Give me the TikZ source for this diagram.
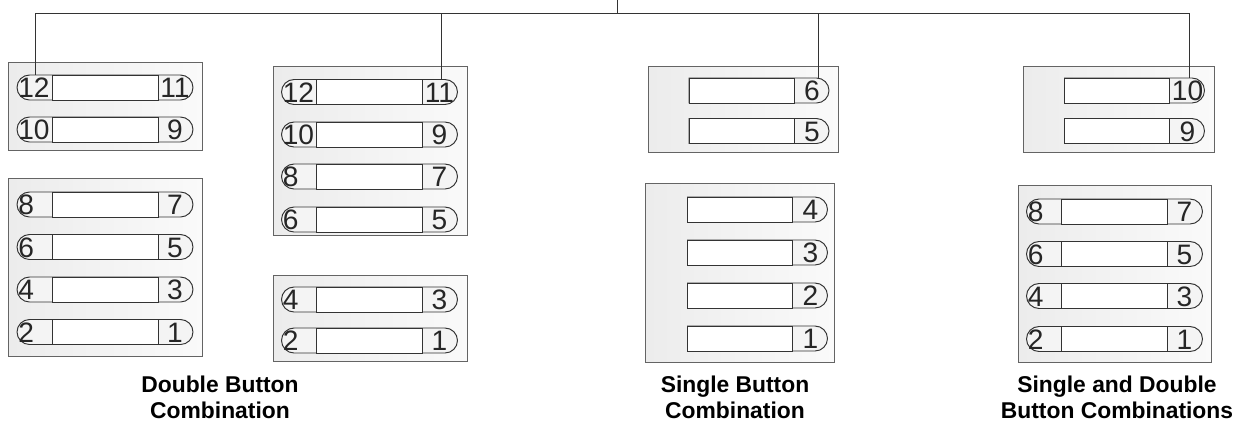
\documentclass[tikz,border=0pt]{standalone}
\usepackage{fontspec}
\setmainfont{Liberation Sans}
\usetikzlibrary{shapes.misc, calc}
\definecolor{linha}{RGB}{51, 51, 51}
\definecolor{borda}{RGB}{100, 100, 100}
\tikzset{
  painel/.style={
    draw=borda, line width=0.5pt, left color=gray!15, right color=gray!4,
    inner sep=0pt, minimum width=3.88cm
  },
  capsula/.style={
    shape=rounded rectangle, draw=linha, line width=0.55pt, fill=gray!9,
    minimum height=0.5cm, inner sep=0pt
  },
  meio/.style={draw=linha, line width=0.55pt, fill=white, minimum height=0.5cm, inner sep=0pt},
  numero/.style={font=\fontsize{16}{16}\selectfont, inner sep=0pt, text=black!85},
  titulo/.style={font=\fontsize{13}{14.8}\selectfont\bfseries, align=center, inner sep=0pt},
  fio/.style={draw=linha, line width=0.55pt},
}
% botao duplo: nome, x, y, numero esquerdo, numero direito
\newcommand{\botaoD}[5]{%
  \node[capsula, minimum width=3.52cm] (#1) at (#2,#3) {};
  \node[meio, minimum width=2.12cm] (#1m) at (#2,#3) {};
  \node[numero, anchor=base west] (#1e) at (#2-87,#3+10) {#4};
  \node[numero, anchor=base] (#1d) at (#2+70,#3+10) {#5};
}
% botao simples: nome, x, y, numero
\newcommand{\botaoS}[4]{%
  \node[capsula, rounded rectangle left arc=none, minimum width=2.8cm] (#1) at (#2,#3) {};
  \node[meio, minimum width=2.1cm] (#1m) at (#2-17.5,#3) {};
  \node[numero, anchor=base] (#1d) at (#2+53,#3+10) {#4};
}

\begin{document}
\begin{tikzpicture}[x=0.02cm, y=-0.02cm]

\useasboundingbox (0,0) rectangle (1244,423);

% paineis
\node[painel, minimum height=1.76cm] (p1) at (105,106) {};
\node[painel, minimum height=3.38cm] (p2) at (370,150.5) {};
\node[painel, minimum width=3.8cm, minimum height=1.72cm] (p3) at (743,109) {};
\node[painel, minimum width=3.82cm, minimum height=1.72cm] (p4) at (1118.5,109) {};
\node[painel, minimum height=3.56cm] (p5) at (105,267) {};
\node[painel, minimum height=1.72cm] (p6) at (370,318) {};
\node[painel, minimum width=3.78cm, minimum height=3.58cm] (p7) at (739.5,272.5) {};
\node[painel, minimum width=3.86cm, minimum height=3.54cm] (p8) at (1114.5,273.5) {};

% botoes duplos
\botaoD{b1a}{105}{87.5}{12}{11}
\botaoD{b1b}{105}{129.5}{10}{9}

\botaoD{b2a}{369.5}{92}{12}{11}
\botaoD{b2b}{369.5}{134.5}{10}{9}
\botaoD{b2c}{369.5}{176.5}{8}{7}
\botaoD{b2d}{369.5}{219.5}{6}{5}

\botaoD{b5a}{105}{204.5}{8}{7}
\botaoD{b5b}{105}{247}{6}{5}
\botaoD{b5c}{105}{289.5}{4}{3}
\botaoD{b5d}{105}{332}{2}{1}

\botaoD{b6a}{369.5}{299.5}{4}{3}
\botaoD{b6b}{369.5}{340.5}{2}{1}

\botaoD{b8a}{1114.5}{211.5}{8}{7}
\botaoD{b8b}{1114.5}{254}{6}{5}
\botaoD{b8c}{1114.5}{296}{4}{3}
\botaoD{b8d}{1114.5}{339}{2}{1}

% botoes simples
\botaoS{b3a}{759}{90.5}{6}
\botaoS{b3b}{759}{131}{5}

\botaoS{b4a}{1134.5}{90.5}{10}
\botaoS{b4b}{1134.5}{131}{9}

\botaoS{b7a}{757.5}{209.5}{4}
\botaoS{b7b}{757.5}{252.5}{3}
\botaoS{b7c}{757.5}{295.5}{2}
\botaoS{b7d}{757.5}{338.5}{1}

% ligacoes
\coordinate (topo) at (617,0);
\coordinate (ramo1) at (35,13);
\coordinate (ramo2) at (441,13);
\coordinate (ramo3) at (818,13);
\coordinate (ramo4) at (1189,13);

\draw[fio] (topo) -- (topo |- ramo1);
\draw[fio] (ramo1) -- (ramo4);
\draw[fio] (ramo1) -- (ramo1 |- b1a.north);
\draw[fio] (ramo2) -- (ramo2 |- b2a.north);
\draw[fio] (ramo3) -- (ramo3 |- b3a.north);
\draw[fio] (ramo4) -- (ramo4 |- b4a.north);

% legendas
\node[titulo, anchor=north] (t1) at (220,376) {Double Button\\Combination};
\node[titulo, anchor=north] (t2) at (735,376) {Single Button\\Combination};
\node[titulo, anchor=north] (t3) at (1117,376) {Single and Double\\Button Combinations};

\end{tikzpicture}
\end{document}
